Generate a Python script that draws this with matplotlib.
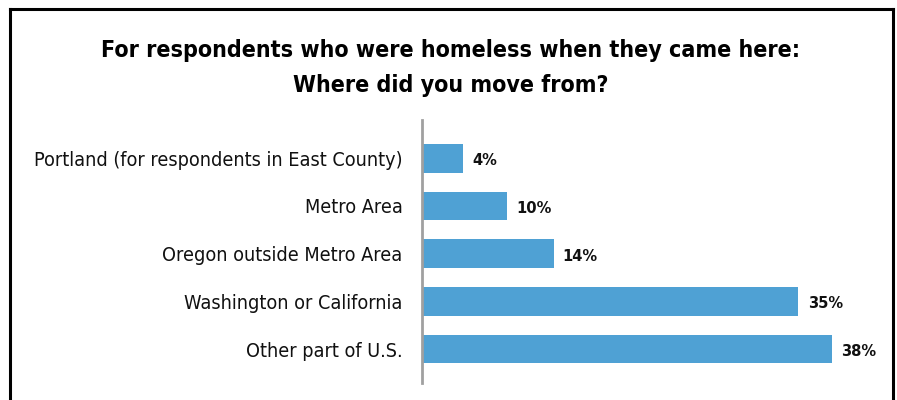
import matplotlib.pyplot as plt
from matplotlib.lines import Line2D

# --- Data ---
categories = [
    "Portland (for respondents in East County)",
    "Metro Area",
    "Oregon outside Metro Area",
    "Washington or California",
    "Other part of U.S.",
]
# bar lengths as drawn in the source (they don't exactly follow the labels)
bar_lengths = [3.8, 7.9, 12.2, 34.9, 38.0]
value_labels = ["4%", "10%", "14%", "35%", "38%"]

title_lines = ["For respondents who were homeless when they came here:",
               "Where did you move from?"]

BAR_COLOR = "#4fa1d4"
FONT = "DejaVu Sans"
STRETCH = "condensed"

W, H = 897, 400
fig = plt.figure(figsize=(W / 100, H / 100), dpi=100)

# axes placed in pixel terms
left, right, top, bottom = 422, 875, 120, 383
ax = fig.add_axes([left / W, 1 - bottom / H, (right - left) / W, (bottom - top) / H])

y = list(range(len(categories)))
ax.barh(y, bar_lengths, height=0.6, color=BAR_COLOR)
ax.set_xlim(0, 42)
ax.set_ylim(4.71, -0.8)

for yi, v, lab in zip(y, bar_lengths, value_labels):
    ax.text(v + 0.85, yi + 0.05, lab, ha="left", va="center",
            fontsize=11.8, fontweight="bold", family=FONT, fontstretch=STRETCH,
            color="#111111")

ax.set_yticks(y)
ax.set_yticklabels(categories, family=FONT, fontstretch=STRETCH,
                   fontsize=14.2, color="#111111")
ax.tick_params(axis="y", length=0, pad=14)
ax.set_xticks([])
for s in ["top", "right", "bottom"]:
    ax.spines[s].set_visible(False)
ax.spines["left"].set_color("#a0a0a0")
ax.spines["left"].set_linewidth(2)

# title, two lines with their own baselines
for line, base in zip(title_lines, [57, 92]):
    fig.text(451 / W, 1 - base / H, line, ha="center", va="baseline",
             fontsize=16.7, fontweight="bold", family=FONT, fontstretch=STRETCH)

# frame around the chart (bottom edge is cut off)
lw = 2.2
fig.add_artist(Line2D([10 / W, 10 / W], [0, 1 - 9 / H], transform=fig.transFigure, color="black", lw=lw))
fig.add_artist(Line2D([10 / W, 893 / W], [1 - 9 / H, 1 - 9 / H], transform=fig.transFigure, color="black", lw=lw))
fig.add_artist(Line2D([893 / W, 893 / W], [0, 1 - 9 / H], transform=fig.transFigure, color="black", lw=lw))

fig.savefig("out.png", dpi=100)
